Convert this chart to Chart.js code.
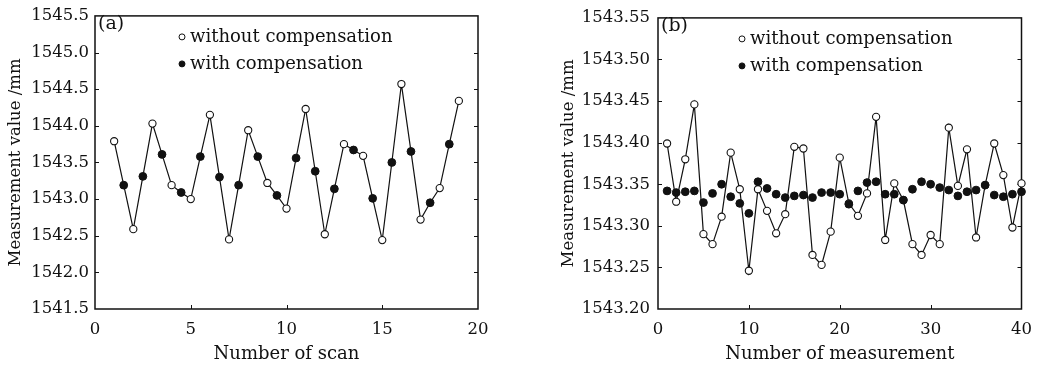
<!DOCTYPE html>
<html>
<head>
<meta charset="utf-8">
<script src="https://cdn.jsdelivr.net/npm/chart.js@4.4.1/dist/chart.umd.min.js"></script>
<style>
  html, body { margin: 0; padding: 0; background: #fff; }
  .panel { position: absolute; top: 0; height: 368px; }
  #pa { left: 0; width: 520px; }
  #pb { left: 520px; width: 523px; }
</style>
</head>
<body>
<div class="panel" id="pa"><canvas id="chartA" width="520" height="368"></canvas></div>
<div class="panel" id="pb"><canvas id="chartB" width="523" height="368"></canvas></div>
<script>
// datos panel (a)
var scanWithout = [1, 2, 3, 4, 5, 6, 7, 8, 9, 10, 11, 12, 13, 14, 15, 16, 17, 18, 19];
var valWithoutA = [1543.79, 1542.59, 1544.03, 1543.19, 1543.00, 1544.15, 1542.45, 1543.94, 1543.22, 1542.87,
                   1544.23, 1542.52, 1543.75, 1543.59, 1542.44, 1544.57, 1542.72, 1543.15, 1544.34];
var scanWith = [1.5, 2.5, 3.5, 4.5, 5.5, 6.5, 7.5, 8.5, 9.5, 10.5, 11.5, 12.5, 13.5, 14.5, 15.5, 16.5, 17.5, 18.5];
var valWithA = [1543.19, 1543.31, 1543.61, 1543.09, 1543.58, 1543.30, 1543.19, 1543.58, 1543.05,
                1543.56, 1543.38, 1543.14, 1543.67, 1543.01, 1543.50, 1543.65, 1542.95, 1543.75];
var xTicksA = [0, 5, 10, 15, 20];
var yTicksA = [1541.5, 1542.0, 1542.5, 1543.0, 1543.5, 1544.0, 1544.5, 1545.0, 1545.5];

// datos panel (b)
var measNum = [1, 2, 3, 4, 5, 6, 7, 8, 9, 10, 11, 12, 13, 14, 15, 16, 17, 18, 19, 20,
               21, 22, 23, 24, 25, 26, 27, 28, 29, 30, 31, 32, 33, 34, 35, 36, 37, 38, 39, 40];
var valWithoutB = [1543.399, 1543.329, 1543.380, 1543.446, 1543.290, 1543.278, 1543.311, 1543.388, 1543.344, 1543.246,
                   1543.344, 1543.318, 1543.291, 1543.314, 1543.395, 1543.393, 1543.265, 1543.253, 1543.293, 1543.382,
                   1543.327, 1543.312, 1543.339, 1543.431, 1543.283, 1543.351, 1543.331, 1543.278, 1543.265, 1543.289,
                   1543.278, 1543.418, 1543.348, 1543.392, 1543.286, 1543.349, 1543.399, 1543.361, 1543.298, 1543.351];
var valWithB = [1543.342, 1543.340, 1543.341, 1543.342, 1543.328, 1543.339, 1543.350, 1543.335, 1543.327, 1543.315,
                1543.353, 1543.345, 1543.338, 1543.334, 1543.336, 1543.337, 1543.334, 1543.340, 1543.340, 1543.338,
                1543.326, 1543.342, 1543.352, 1543.353, 1543.338, 1543.338, 1543.331, 1543.344, 1543.353, 1543.350,
                1543.346, 1543.343, 1543.336, 1543.341, 1543.343, 1543.349, 1543.337, 1543.335, 1543.338, 1543.341];
var xTicksB = [0, 10, 20, 30, 40];
var yTicksB = [1543.20, 1543.25, 1543.30, 1543.35, 1543.40, 1543.45, 1543.50, 1543.55];

var serif = "'DejaVu Serif', 'Liberation Serif', serif";
var ink = "#111111";

function puntos(xs, ys) {
  return xs.map(function (x, i) { return { x: x, y: ys[i] }; });
}

// marco, marcas interiores, leyenda y etiqueta (a)/(b)
var marcoPlugin = {
  id: "marco",
  beforeDatasetsDraw: function (chart) {
    var ctx = chart.ctx, a = chart.chartArea, sx = chart.scales.x, sy = chart.scales.y;
    ctx.save();
    ctx.strokeStyle = ink;
    ctx.lineWidth = 1;
    sx.ticks.forEach(function (t) {
      var px = Math.round(sx.getPixelForValue(t.value)) + 0.5;
      if (px < a.left + 2 || px > a.right - 2) return;
      ctx.beginPath(); ctx.moveTo(px, a.bottom); ctx.lineTo(px, a.bottom - 4); ctx.stroke();
    });
    sy.ticks.forEach(function (t) {
      var py = Math.round(sy.getPixelForValue(t.value)) + 0.5;
      if (py < a.top + 2 || py > a.bottom - 2) return;
      ctx.beginPath(); ctx.moveTo(a.left, py); ctx.lineTo(a.left + 4, py); ctx.stroke();
      ctx.beginPath(); ctx.moveTo(a.right, py); ctx.lineTo(a.right - 4, py); ctx.stroke();
    });
    ctx.lineWidth = 1.5;
    ctx.strokeRect(a.left, a.top, a.right - a.left, a.bottom - a.top);
    ctx.restore();
  },
  afterDraw: function (chart, args, opts) {
    var ctx = chart.ctx, a = chart.chartArea;
    ctx.save();
    ctx.fillStyle = ink;
    ctx.font = "19px " + serif;
    ctx.textBaseline = "top";
    ctx.textAlign = "left";
    ctx.fillText(opts.panel, a.left + 3, a.top - 1);

    ctx.font = "18px " + serif;
    ctx.textBaseline = "middle";
    var mx = a.left + opts.legendX;
    chart.data.datasets.forEach(function (ds) {
      if (!ds.legendRow) return;
      var my = a.top + ds.legendRow;
      ctx.beginPath();
      ctx.arc(mx, my, 3, 0, Math.PI * 2);
      ctx.fillStyle = ds.pointBackgroundColor;
      ctx.fill();
      ctx.strokeStyle = ink;
      ctx.lineWidth = 1;
      ctx.stroke();
      ctx.fillStyle = ink;
      ctx.fillText(ds.label, mx + 8, my);
    });
    ctx.restore();
  }
};

function ejes(xmin, xmax, xTicks, ymin, ymax, yTicks, dec, xTitle, yWidth, yTitlePad, yTickPad) {
  return {
    x: {
      type: "linear", min: xmin, max: xmax,
      afterBuildTicks: function (s) { s.ticks = xTicks.map(function (v) { return { value: v }; }); },
      afterFit: function (s) { s.height = 59; },
      grid: { display: false, drawTicks: false },
      border: { display: false },
      ticks: { color: ink, font: { family: serif, size: 16.5 }, padding: 11, maxRotation: 0 },
      title: { display: true, text: xTitle, color: ink, font: { family: serif, size: 18 }, padding: { top: 0, bottom: 3 } }
    },
    y: {
      type: "linear", min: ymin, max: ymax,
      afterBuildTicks: function (s) { s.ticks = yTicks.map(function (v) { return { value: v }; }); },
      afterFit: function (s) { s.width = yWidth; },
      grid: { display: false, drawTicks: false },
      border: { display: false },
      ticks: {
        color: ink, font: { family: serif, size: 16.5 }, padding: yTickPad,
        callback: function (v) { return Number(v).toFixed(dec); }
      },
      title: { display: true, text: "Measurement value /mm", color: ink, font: { family: serif, size: 16.5 }, padding: { top: yTitlePad, bottom: 0 } }
    }
  };
}

function cargaPanelA() {
  // la línea une todos los puntos en orden de escaneo
  var todos = puntos(scanWithout, valWithoutA).concat(puntos(scanWith, valWithA));
  todos.sort(function (p, q) { return p.x - q.x; });

  var config = {
    type: "scatter",
    data: {
      datasets: [
        { label: "", data: todos, showLine: true, borderColor: ink, borderWidth: 1.2, pointRadius: 0, order: 3, clip: false },
        { label: "without compensation", legendRow: 21, data: puntos(scanWithout, valWithoutA), pointRadius: 3.6,
          pointBackgroundColor: "#ffffff", pointBorderColor: ink, pointBorderWidth: 1.1, order: 1, clip: false },
        { label: "with compensation", legendRow: 48, data: puntos(scanWith, valWithA), pointRadius: 3.9,
          pointBackgroundColor: ink, pointBorderColor: ink, pointBorderWidth: 1, order: 2, clip: false }
      ]
    },
    options: {
      responsive: false, animation: false, events: [],
      layout: { padding: { left: 0, right: 42, top: 14, bottom: 0 } },
      scales: ejes(0, 20, xTicksA, 1541.5, 1545.5, yTicksA, 1, "Number of scan", 95, 6, 6),
      plugins: { legend: { display: false }, tooltip: { enabled: false }, marco: { panel: "(a)", legendX: 87 } }
    },
    plugins: [marcoPlugin]
  };
  new Chart(document.getElementById("chartA").getContext("2d"), config);
}

function cargaPanelB() {
  var config = {
    type: "scatter",
    data: {
      datasets: [
        { label: "without compensation", legendRow: 21, data: puntos(measNum, valWithoutB), showLine: true,
          borderColor: ink, borderWidth: 1.2, pointRadius: 3.6,
          pointBackgroundColor: "#ffffff", pointBorderColor: ink, pointBorderWidth: 1.1, order: 2, clip: false },
        { label: "with compensation", legendRow: 48, data: puntos(measNum, valWithB), pointRadius: 3.9,
          pointBackgroundColor: ink, pointBorderColor: ink, pointBorderWidth: 1, order: 1, clip: false }
      ]
    },
    options: {
      responsive: false, animation: false, events: [],
      layout: { padding: { left: 0, right: 20, top: 14, bottom: 0 } },
      scales: ejes(0, 40, xTicksB, 1543.20, 1543.55, yTicksB, 2, "Number of measurement", 138, 39, 8),
      plugins: { legend: { display: false }, tooltip: { enabled: false }, marco: { panel: "(b)", legendX: 84 } }
    },
    plugins: [marcoPlugin]
  };
  new Chart(document.getElementById("chartB").getContext("2d"), config);
}

cargaPanelA();
cargaPanelB();
</script>
</body>
</html>
